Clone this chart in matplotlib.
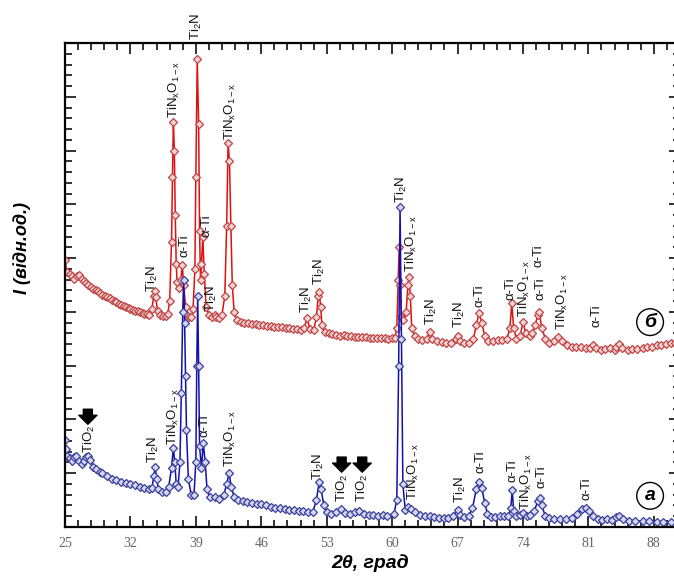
import matplotlib
matplotlib.use("Agg")
import numpy as np
import matplotlib.pyplot as plt

plt.rcParams['mathtext.default'] = 'regular'

# XRD pattern (б) - red
two_theta_b = [25.0, 25.2, 25.5, 25.8, 26.0, 26.3, 26.5, 26.8, 27.0, 27.3, 27.5, 27.8, 28.0, 28.3, 28.5, 28.8,
               29.0, 29.3, 29.5, 29.8, 30.0, 30.3, 30.5, 30.8, 31.0, 31.3, 31.5, 31.8, 32.0, 32.3, 32.5, 32.8,
               33.0, 33.3, 33.5, 33.8, 34.0, 34.3, 34.5, 34.6, 34.7, 34.9, 35.2, 35.5, 35.8, 36.0, 36.2, 36.4,
               36.5, 36.6, 36.7, 36.8, 36.9, 37.0, 37.2, 37.4, 37.55, 37.7, 37.9, 38.1, 38.3, 38.5, 38.7, 38.9,
               39.0, 39.15, 39.3, 39.4, 39.5, 39.6, 39.75, 39.9, 40.1, 40.4, 40.7, 41.0, 41.2, 41.5, 41.8, 42.1,
               42.3, 42.45, 42.6, 42.75, 42.9, 43.1, 43.4, 43.8, 44.2, 44.6, 45.0, 45.4, 45.8, 46.2, 46.6, 47.0,
               47.4, 47.8, 48.2, 48.6, 49.0, 49.4, 49.8, 50.2, 50.6, 50.9, 51.2, 51.6, 51.9, 52.1, 52.2, 52.35,
               52.5, 52.8, 53.2, 53.6, 54.0, 54.4, 54.8, 55.2, 55.6, 56.0, 56.4, 56.8, 57.2, 57.6, 58.0, 58.4,
               58.8, 59.2, 59.6, 60.0, 60.3, 60.5, 60.65, 60.75, 60.85, 61.0, 61.2, 61.5, 61.7, 61.8, 61.95, 62.1,
               62.4, 62.8, 63.2, 63.7, 64.0, 64.3, 64.8, 65.3, 65.8, 66.3, 66.8, 67.0, 67.3, 67.7, 68.2, 68.7,
               69.0, 69.3, 69.6, 69.9, 70.3, 70.8, 71.3, 71.8, 72.3, 72.6, 72.8, 73.0, 73.3, 73.7, 74.0, 74.3,
               74.7, 75.0, 75.3, 75.6, 75.75, 76.0, 76.4, 76.8, 77.3, 77.8, 78.2, 78.7, 79.2, 79.7, 80.2, 80.7,
               81.2, 81.5, 81.8, 82.3, 82.8, 83.3, 83.8, 84.0, 84.3, 84.6, 85.2, 85.7, 86.2, 86.8, 87.3, 87.8,
               88.3, 88.8, 89.3, 89.8, 90.3, 90.6]
intensity_b = [4.96, 4.75, 4.70, 4.66, 4.62, 4.66, 4.68, 4.62, 4.58, 4.54, 4.50, 4.46, 4.42, 4.40, 4.38, 4.35,
               4.32, 4.30, 4.28, 4.25, 4.22, 4.20, 4.18, 4.15, 4.12, 4.11, 4.10, 4.07, 4.05, 4.04, 4.02, 4.01,
               4.00, 3.98, 3.97, 3.96, 3.95, 4.05, 4.30, 4.38, 4.28, 4.02, 3.95, 3.93, 3.92, 3.97, 4.20, 5.30,
               6.50, 7.53, 7.00, 5.80, 4.90, 4.55, 4.45, 4.60, 4.87, 4.50, 4.10, 3.95, 3.90, 3.90, 4.05, 4.80,
               6.50, 8.70, 7.50, 5.50, 4.60, 4.90, 5.40, 4.70, 4.10, 3.95, 3.90, 3.95, 3.90, 3.88, 3.95, 4.30,
               5.60, 7.14, 6.80, 5.60, 4.50, 4.00, 3.85, 3.82, 3.80, 3.79, 3.78, 3.77, 3.76, 3.75, 3.74, 3.73,
               3.72, 3.71, 3.71, 3.70, 3.70, 3.69, 3.68, 3.67, 3.70, 3.88, 3.68, 3.66, 3.90, 4.30, 4.37, 4.10,
               3.75, 3.62, 3.60, 3.58, 3.57, 3.56, 3.57, 3.55, 3.55, 3.54, 3.54, 3.53, 3.54, 3.52, 3.52, 3.51,
               3.52, 3.51, 3.50, 3.51, 3.52, 3.70, 4.60, 5.20, 4.50, 3.90, 3.85, 4.00, 4.50, 4.65, 4.30, 3.70,
               3.55, 3.50, 3.48, 3.50, 3.62, 3.50, 3.45, 3.44, 3.43, 3.43, 3.50, 3.55, 3.45, 3.42, 3.42, 3.50,
               3.75, 3.98, 3.80, 3.55, 3.45, 3.45, 3.47, 3.48, 3.50, 3.70, 4.16, 3.70, 3.50, 3.55, 3.81, 3.60,
               3.55, 3.60, 3.75, 3.95, 4.00, 3.70, 3.50, 3.42, 3.45, 3.53, 3.45, 3.38, 3.35, 3.34, 3.34, 3.32,
               3.33, 3.38, 3.32, 3.30, 3.31, 3.32, 3.30, 3.35, 3.40, 3.32, 3.30, 3.31, 3.31, 3.33, 3.34, 3.35,
               3.38, 3.39, 3.40, 3.42, 3.43, 3.43]

# XRD pattern (а) - blue
two_theta_a = [25.0, 25.1, 25.25, 25.5, 25.8, 26.0, 26.2, 26.5, 26.8, 27.0, 27.3, 27.5, 27.7, 28.0, 28.3, 28.7,
               29.0, 29.5, 30.0, 30.5, 31.0, 31.5, 32.0, 32.5, 33.0, 33.5, 34.0, 34.3, 34.5, 34.65, 34.8, 35.0,
               35.4, 35.8, 36.1, 36.4, 36.6, 36.75, 36.9, 37.1, 37.3, 37.45, 37.6, 37.7, 37.8, 37.9, 38.0, 38.2,
               38.5, 38.8, 39.0, 39.1, 39.2, 39.3, 39.4, 39.6, 39.8, 40.0, 40.2, 40.5, 41.0, 41.5, 42.0, 42.3,
               42.55, 42.8, 43.1, 43.5, 44.0, 44.5, 45.0, 45.5, 46.0, 46.5, 47.0, 47.5, 48.0, 48.5, 49.0, 49.5,
               50.0, 50.5, 51.0, 51.5, 51.9, 52.2, 52.4, 52.7, 53.0, 53.5, 54.0, 54.5, 55.0, 55.5, 56.0, 56.5,
               57.0, 57.5, 58.0, 58.5, 59.0, 59.5, 60.2, 60.5, 60.7, 60.85, 61.0, 61.15, 61.4, 61.7, 62.0, 62.5,
               63.0, 63.5, 64.0, 64.5, 65.0, 65.5, 66.0, 66.5, 67.0, 67.3, 67.7, 68.2, 68.6, 69.0, 69.3, 69.6,
               69.9, 70.2, 70.6, 71.0, 71.5, 72.0, 72.4, 72.7, 72.85, 73.0, 73.3, 73.7, 74.0, 74.4, 74.8, 75.2,
               75.6, 75.8, 76.0, 76.4, 76.8, 77.3, 78.0, 78.6, 79.2, 79.8, 80.3, 80.7, 81.1, 81.5, 82.0, 82.5,
               83.0, 83.5, 84.0, 84.3, 84.7, 85.3, 86.0, 86.8, 87.5, 88.3, 89.0, 89.8, 90.6]
intensity_a = [1.62, 1.45, 1.32, 1.28, 1.22, 1.30, 1.32, 1.22, 1.18, 1.22, 1.30, 1.32, 1.25, 1.12, 1.08, 1.02,
               1.00, 0.95, 0.90, 0.88, 0.84, 0.82, 0.80, 0.78, 0.75, 0.72, 0.70, 0.72, 0.95, 1.12, 0.90, 0.70,
               0.66, 0.65, 0.75, 1.10, 1.47, 1.20, 0.80, 0.75, 1.20, 2.50, 4.00, 4.60, 3.80, 2.80, 1.80, 0.90,
               0.60, 0.60, 1.20, 3.00, 4.30, 3.00, 1.50, 1.10, 1.56, 1.20, 0.70, 0.55, 0.55, 0.52, 0.60, 0.80,
               1.00, 0.75, 0.55, 0.50, 0.48, 0.46, 0.45, 0.43, 0.42, 0.40, 0.38, 0.36, 0.35, 0.34, 0.32, 0.31,
               0.30, 0.29, 0.28, 0.27, 0.50, 0.84, 0.70, 0.40, 0.27, 0.25, 0.27, 0.33, 0.26, 0.25, 0.28, 0.30,
               0.25, 0.22, 0.22, 0.21, 0.22, 0.20, 0.25, 0.50, 3.00, 5.95, 3.50, 0.80, 0.32, 0.38, 0.33, 0.27,
               0.22, 0.20, 0.20, 0.18, 0.17, 0.17, 0.16, 0.20, 0.32, 0.22, 0.18, 0.20, 0.35, 0.70, 0.84, 0.72,
               0.45, 0.25, 0.18, 0.18, 0.20, 0.20, 0.20, 0.35, 0.69, 0.30, 0.20, 0.22, 0.26, 0.20, 0.22, 0.30,
               0.48, 0.54, 0.40, 0.20, 0.16, 0.15, 0.14, 0.14, 0.16, 0.24, 0.33, 0.35, 0.30, 0.20, 0.15, 0.13,
               0.14, 0.13, 0.18, 0.20, 0.14, 0.12, 0.12, 0.11, 0.12, 0.10, 0.10, 0.10, 0.09]

TIN = 'TiN$_x$O$_{1-x}$'
TI2N = 'Ti$_2$N'
ATI = 'α-Ti'

# phase labels: text, 2theta, intensity at label bottom
labels_b = [(TI2N, 34.4, 4.37), (TIN, 36.75, 7.6), (ATI, 37.8, 5.02), (TI2N, 39.1, 9.05),
            (ATI, 40.15, 5.39), (TI2N, 40.7, 4.0), (TIN, 42.7, 7.19), (TI2N, 50.85, 3.98),
            (TI2N, 52.2, 4.5), (TI2N, 61.0, 6.02), (TIN, 62.05, 4.74), (TI2N, 64.2, 3.75),
            (TI2N, 67.2, 3.7), (ATI, 69.3, 4.09), (ATI, 72.7, 4.22), (TIN, 74.2, 3.9),
            (ATI, 75.7, 4.83), (ATI, 75.9, 4.22), (TIN, 78.2, 3.66), (ATI, 81.9, 3.72)]
labels_a = [('TiO$_2$', 27.65, 1.38), (TI2N, 34.5, 1.19), (TIN, 36.65, 1.52), (ATI, 39.95, 1.67),
            (TIN, 42.7, 1.12), (TI2N, 52.1, 0.87), ('TiO$_2$', 54.7, 0.46), ('TiO$_2$', 56.8, 0.46),
            (TIN, 62.25, 0.5), (TI2N, 67.3, 0.45), (ATI, 69.5, 1.0), (ATI, 72.85, 0.84),
            (TIN, 74.35, 0.32), (ATI, 75.95, 0.72), (ATI, 80.75, 0.5)]
# TiO2 arrows: 2theta, tail, tip
arrows = [(27.45, 2.19, 1.91), (54.6, 1.30, 1.02), (56.8, 1.30, 1.02)]

fig = plt.figure(figsize=(6.74, 5.79), dpi=100)
ax = fig.add_axes([0.0964, 0.0898, 0.9125, 0.8359])

ax.plot(two_theta_b, intensity_b, color='#e01010', lw=1.1, marker='D', ms=4.2,
        mfc='#f2d4d4', mec='#c04444', mew=0.9)
ax.plot(two_theta_a, intensity_a, color='#1010b0', lw=1.1, marker='D', ms=4.2,
        mfc='#d6d6f2', mec='#38409a', mew=0.9)

for txt, x, y in labels_b + labels_a:
    ax.text(x, y, txt, rotation=90, ha='center', va='bottom', fontsize=9.5,
            family='Liberation Sans', color='#111111')

for x, y0, y1 in arrows:
    ax.annotate('', xy=(x, y1), xytext=(x, y0),
                arrowprops=dict(arrowstyle='simple,head_length=0.5,head_width=1.0,tail_width=0.5',
                                fc='black', ec='black', mutation_scale=13, shrinkA=0, shrinkB=0))

for txt, y in [('б', 3.81), ('а', 0.58)]:
    ax.text(87.6, y, txt, ha='center', va='center', fontsize=14, fontweight='bold',
            style='italic', family='Liberation Sans',
            bbox=dict(boxstyle='circle,pad=0.25', fc='white', ec='black', lw=1.0))

ax.set_xlim(25, 90.67)
ax.set_ylim(0, 9)
ax.set_xticks(np.arange(25, 90, 7))
ax.set_xticks(np.arange(25, 91, 1.4), minor=True)
ax.set_yticks(np.arange(0, 10, 1))
ax.set_yticks(np.arange(0, 9.01, 0.2), minor=True)
ax.tick_params(which='both', direction='in', top=True, right=True, width=1.3, color='#222222')
ax.tick_params(which='major', length=8)
ax.tick_params(which='minor', length=5)
ax.tick_params(axis='x', labelsize=10, labelcolor='#666666', pad=7)
ax.tick_params(axis='y', labelleft=False)
for lab in ax.get_xticklabels():
    lab.set_family('Liberation Serif')
for s in ax.spines.values():
    s.set_linewidth(1.6)

fig.text(0.549, 0.027, '2θ, град', ha='center', va='center', fontsize=14,
         fontweight='bold', style='italic', family='Liberation Sans')
fig.text(0.033, 0.572, 'I (відн.од.)', ha='center', va='center', rotation=90, fontsize=13,
         fontweight='bold', style='italic', family='Liberation Sans')

fig.savefig('out.png', dpi=100)
